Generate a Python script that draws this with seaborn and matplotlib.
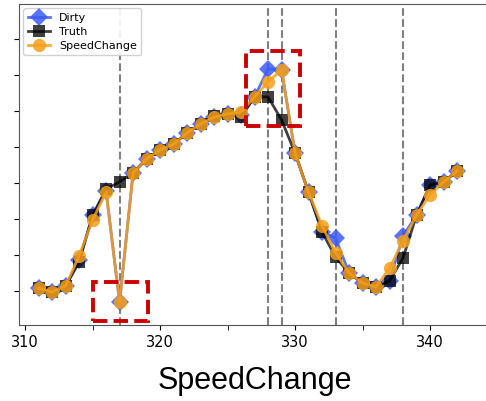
import numpy as np
import pandas as pd
import matplotlib
matplotlib.use("Agg")
import matplotlib.pyplot as plt
import seaborn as sns
from matplotlib.patches import Rectangle

# time index
t = list(range(311, 343))

truth = [1.08, 0.97, 1.14, 1.80, 3.10, 3.83, 4.03, 4.28, 4.67, 4.92,
         5.08, 5.39, 5.64, 5.86, 5.92, 5.83, 6.39, 6.39, 5.75, 4.83,
         3.74, 2.64, 1.94, 1.50, 1.22, 1.11, 1.28, 1.92, 3.11, 3.94,
         4.03, 4.33]

dirty = [1.08, 0.97, 1.14, 1.85, 3.10, 3.78, 0.69, 4.28, 4.67, 4.92,
         5.08, 5.39, 5.64, 5.83, 5.92, 5.88, 6.39, 7.17, 7.14, 4.83,
         3.74, 2.64, 2.47, 1.50, 1.22, 1.11, 1.28, 2.53, 3.11, 3.94,
         4.03, 4.33]

speedchange = [1.08, 0.97, 1.14, 1.97, 2.97, 3.75, 0.69, 4.28, 4.67, 4.92,
               5.08, 5.39, 5.64, 5.83, 5.92, 5.97, 6.39, 6.81, 7.14, 4.83,
               3.74, 2.81, 2.06, 1.50, 1.22, 1.11, 1.64, 2.39, 3.11, 3.67,
               4.03, 4.33]

error_times = [317, 328, 329, 333, 338]

df = pd.DataFrame({"t": t, "Dirty": dirty, "Truth": truth, "SpeedChange": speedchange})

fig = plt.figure(figsize=(4.86, 4.01), dpi=100)
ax = fig.add_axes([19 / 486, 76 / 401, 471 / 486, 321 / 401])

for x in error_times:
    ax.axvline(x, color="gray", linestyle="--", linewidth=1.5, zorder=1)

sns.lineplot(data=df, x="t", y="Dirty", ax=ax, marker="D", markersize=9,
             color="#3d5cf5", alpha=0.85, linewidth=2, label="Dirty",
             markeredgewidth=0)
sns.lineplot(data=df, x="t", y="Truth", ax=ax, marker="s", markersize=8.5,
             color="black", alpha=0.75, linewidth=2, label="Truth",
             markeredgewidth=0)
sns.lineplot(data=df, x="t", y="SpeedChange", ax=ax, marker="o", markersize=9.5,
             color="#f59f1a", alpha=0.85, linewidth=2, label="SpeedChange",
             markeredgewidth=0)

# highlighted repairs
ax.add_patch(Rectangle((315.05, 0.17), 4.05, 1.08, fill=False, edgecolor="#cc0000",
                       linestyle="--", linewidth=2.8, zorder=5))
ax.add_patch(Rectangle((326.4, 5.58), 4.0, 2.09, fill=False, edgecolor="#cc0000",
                       linestyle="--", linewidth=2.8, zorder=5))

ax.set_xlim(309.55, 344.44)
ax.set_ylim(0.056, 8.97)
ax.set_xticks([310, 320, 330, 340])
ax.set_xticks([315, 325, 335], minor=True)
ax.tick_params(axis="x", which="minor", length=3.5)
ax.set_yticks(range(1, 9))
ax.set_yticklabels([])
ax.tick_params(axis="x", labelsize=10.5)
ax.set_ylabel("")
ax.set_xlabel("SpeedChange", fontsize=22, labelpad=12, family="Liberation Sans")

for s in ax.spines.values():
    s.set_color("#555555")

ax.legend(loc="upper left", fontsize=8, markerscale=1.0, handlelength=2.0,
          borderaxespad=0.4, framealpha=0.9, labelspacing=0.35)

fig.savefig("out.png", dpi=100)
